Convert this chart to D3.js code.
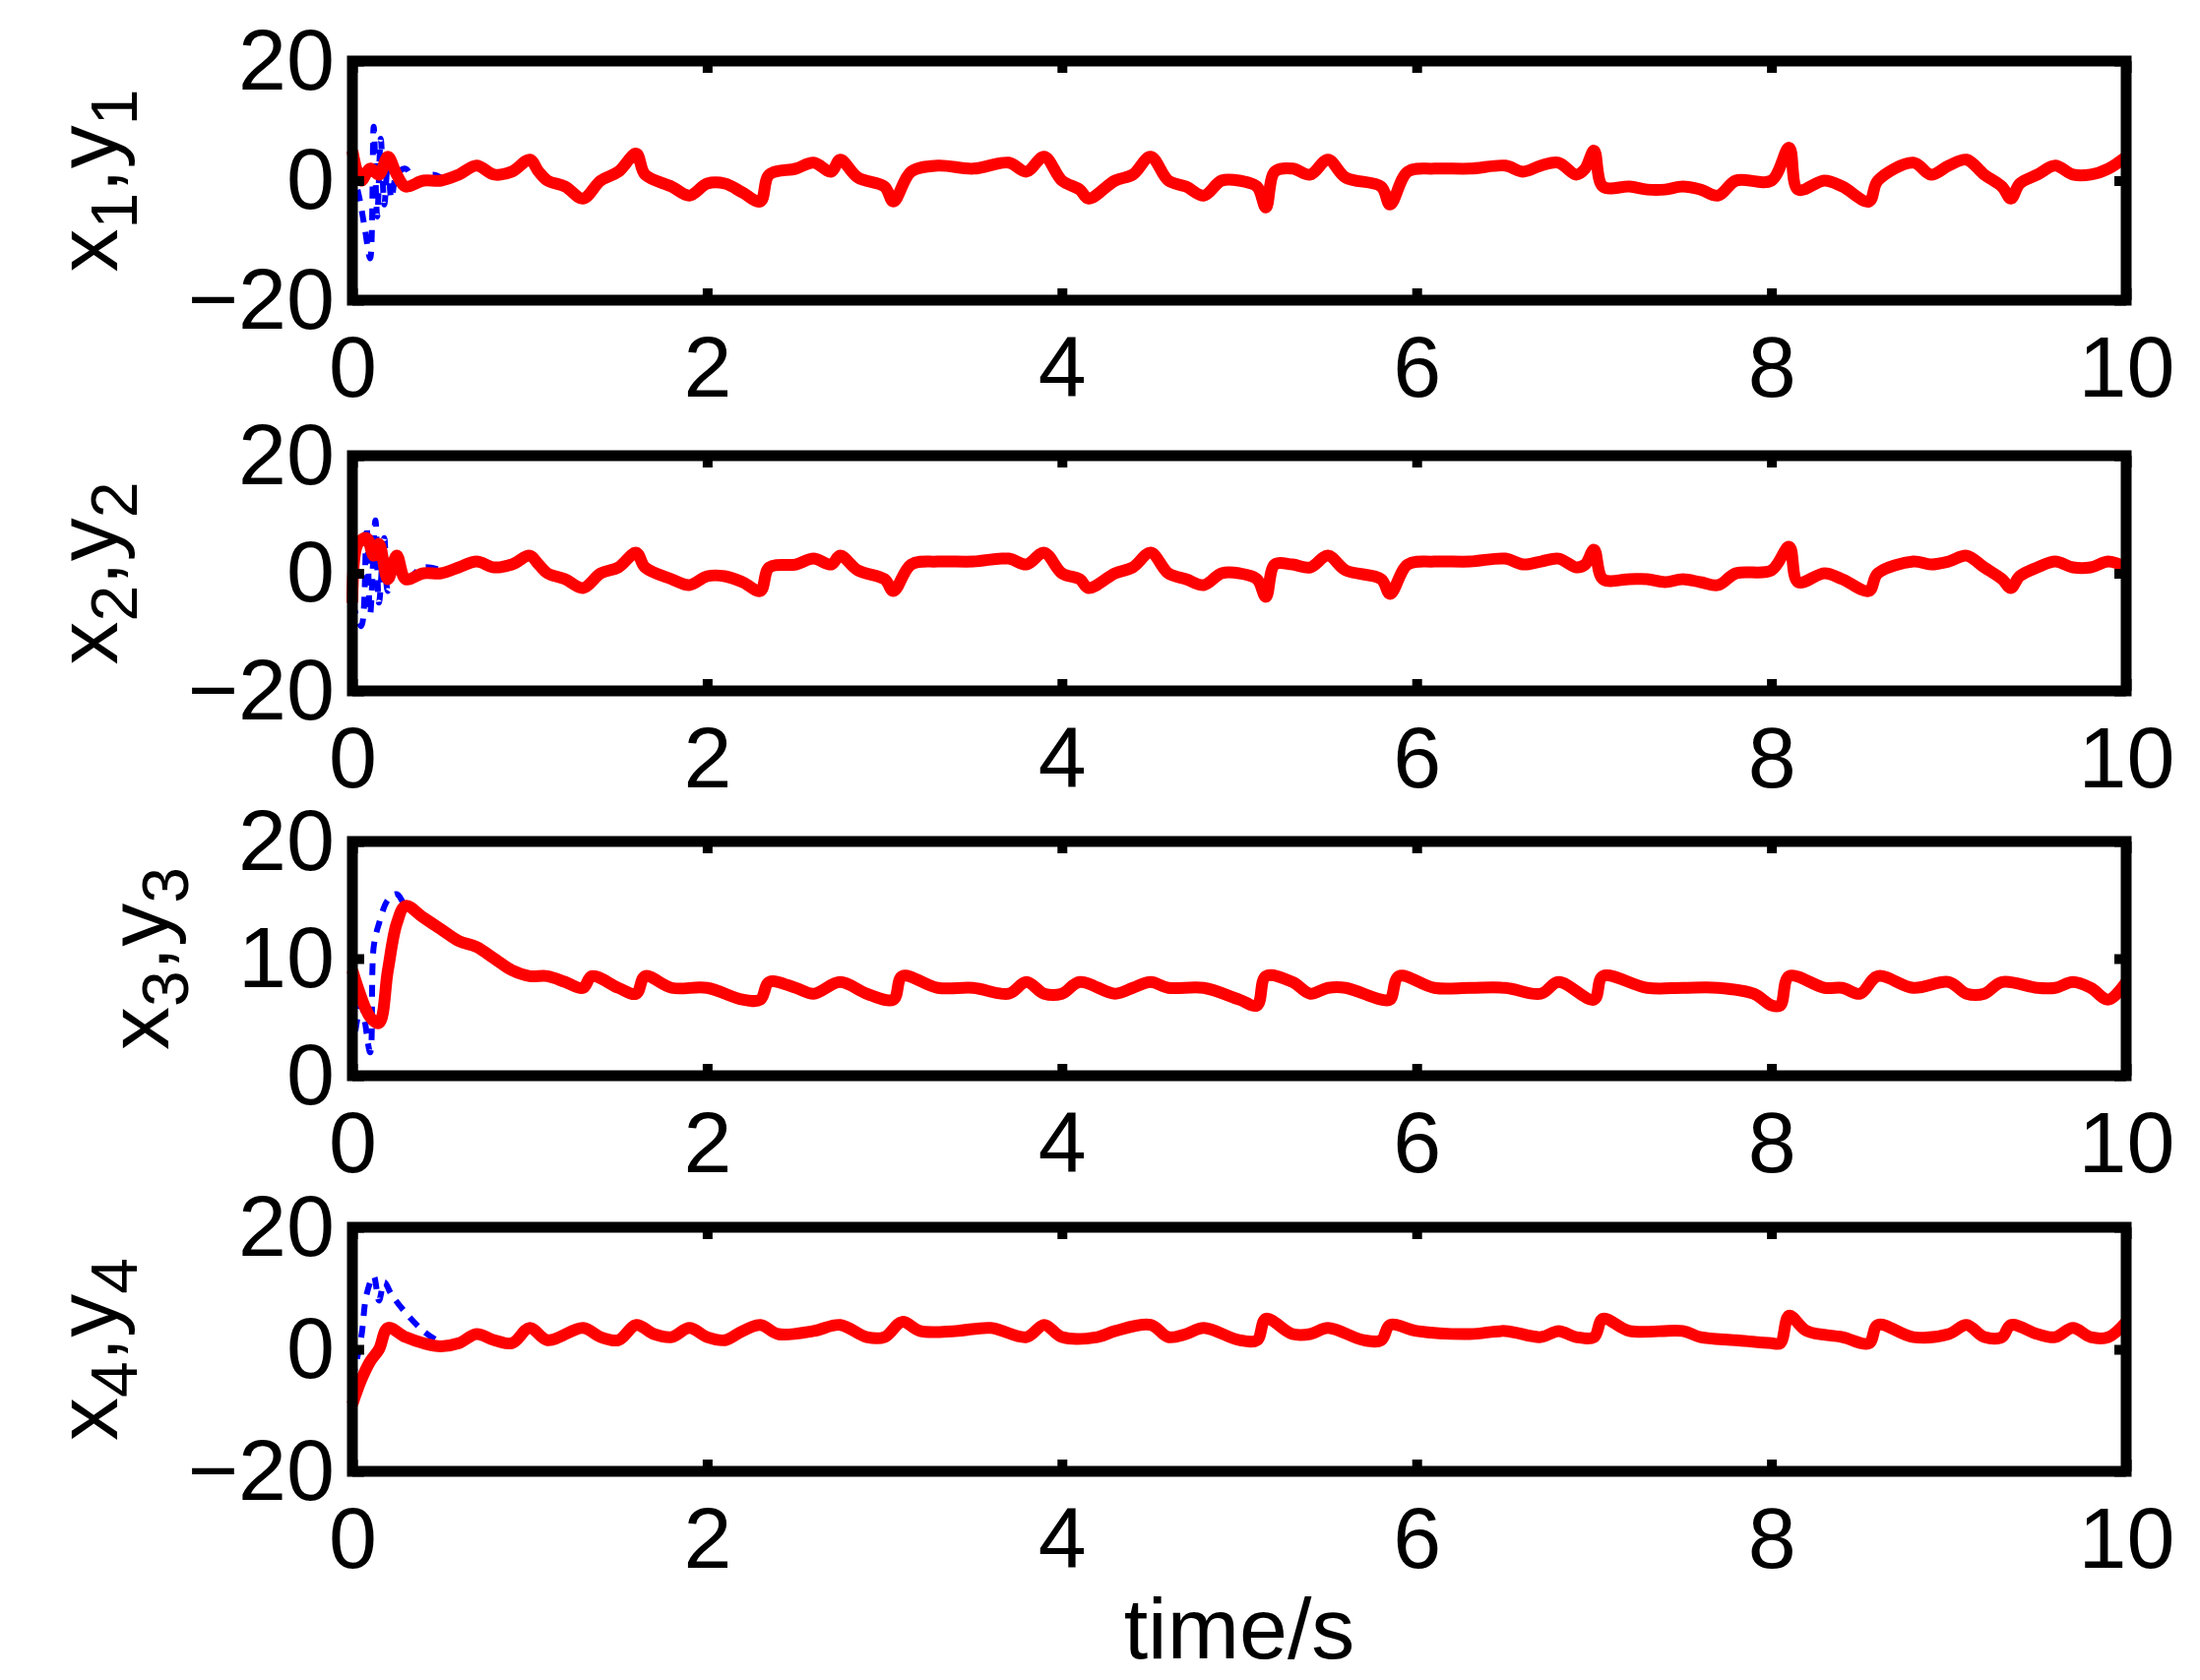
<!DOCTYPE html>
<html><head><meta charset="utf-8">
<script src="https://cdn.jsdelivr.net/npm/d3@7"></script>
<style>body{margin:0;background:#fff}svg{display:block}text{font-family:"Liberation Sans",Arial,sans-serif}</style>
</head><body>
<script>
const xTicks=[0,2,4,6,8,10];
const yTicksA=[-20,0,20];
const yTicksB=[0,10,20];
const yLabels=["1","2","3","4"];
const red1=[[0,5],[0.05,0],[0.1,2],[0.15,1],[0.2,4],[0.25,1],[0.3,-1],[0.4,0],[0.5,0],[0.6,1],[0.7,2.5],[0.8,1],[0.9,1.5],[1.0,3.5],[1.05,1.5],[1.1,0],[1.2,-1],[1.3,-3],[1.4,0],[1.5,1.5],[1.6,4.5],[1.65,1],[1.8,-1],[1.9,-2.5],[2.0,-0.5],[2.1,-0.5],[2.2,-2],[2.3,-3.5],[2.35,1],[2.5,2],[2.6,3],[2.7,1.5],[2.75,3.5],[2.85,0.5],[3.0,-1],[3.05,-3.5],[3.15,1.5],[3.3,2.5],[3.5,2],[3.7,3],[3.8,1.5],[3.9,4],[4.0,0],[4.1,-1.5],[4.15,-3],[4.3,0],[4.4,1],[4.5,4],[4.6,0],[4.7,-1],[4.8,-2.5],[4.9,0],[5.0,0],[5.1,-1],[5.15,-4.5],[5.2,1.5],[5.3,2],[5.4,1],[5.5,3.5],[5.6,0.5],[5.8,-1],[5.85,-4],[5.95,1.5],[6.1,2],[6.3,2],[6.5,2.5],[6.6,1.5],[6.7,2.5],[6.8,3],[6.9,1],[6.95,2],[7.0,5],[7.05,-1],[7.2,-1],[7.3,-1.5],[7.4,-1.5],[7.5,-1],[7.6,-1.5],[7.7,-2.5],[7.8,0],[8.0,0],[8.1,5.5],[8.15,-1.5],[8.3,0],[8.4,-1],[8.55,-3.5],[8.6,0],[8.8,3],[8.9,1],[9.0,2.5],[9.1,3.5],[9.2,1],[9.3,-1],[9.35,-3],[9.4,-0.5],[9.5,1],[9.6,2.5],[9.7,1],[9.8,1],[9.9,2],[10,4]];
const red2=[[0,-5],[0.03,5],[0.08,6],[0.12,3],[0.15,5],[0.2,-1],[0.25,3],[0.3,-1],[0.4,0],[0.5,0],[0.6,1],[0.7,2],[0.8,1],[0.9,1.5],[1.0,3],[1.05,1.5],[1.1,0],[1.2,-1],[1.3,-2.5],[1.4,0],[1.5,1],[1.6,3.5],[1.65,1],[1.8,-1],[1.9,-2],[2.0,-0.5],[2.1,-0.5],[2.2,-1.5],[2.3,-3],[2.35,1],[2.5,1.5],[2.6,2.5],[2.7,1.5],[2.75,3],[2.85,0.5],[3.0,-1],[3.05,-3],[3.15,1.5],[3.3,2],[3.5,2],[3.7,2.5],[3.8,1.5],[3.9,3.5],[4.0,0],[4.1,-1],[4.15,-2.5],[4.3,0],[4.4,1],[4.5,3.5],[4.6,0],[4.7,-1],[4.8,-2],[4.9,0],[5.0,0],[5.1,-1],[5.15,-4],[5.2,1.5],[5.3,1.5],[5.4,1],[5.5,3],[5.6,0.5],[5.8,-1],[5.85,-3.5],[5.95,1.5],[6.1,2],[6.3,2],[6.5,2.5],[6.6,1.5],[6.7,2],[6.8,2.5],[6.9,1],[6.95,1.5],[7.0,4],[7.05,-1],[7.2,-1],[7.3,-1],[7.4,-1.5],[7.5,-1],[7.6,-1.5],[7.7,-2],[7.8,0],[8.0,0.5],[8.1,4.5],[8.15,-1.5],[8.3,0],[8.4,-1],[8.55,-3],[8.6,0],[8.8,2],[8.9,1.5],[9.0,2],[9.1,3],[9.2,1],[9.3,-1],[9.35,-2.5],[9.4,-0.5],[9.5,1],[9.6,2],[9.7,1],[9.8,1],[9.9,2],[10,1]];
const red3=[[0,9],[0.1,5],[0.15,4.5],[0.2,9],[0.25,13],[0.3,14.5],[0.4,13.5],[0.5,12.5],[0.6,11.5],[0.7,11],[0.8,10],[0.9,9],[1.0,8.5],[1.1,8.5],[1.2,8],[1.3,7.5],[1.35,8.5],[1.5,7.5],[1.6,7],[1.65,8.5],[1.8,7.5],[2.0,7.5],[2.2,6.5],[2.3,6.5],[2.35,8],[2.5,7.5],[2.6,7],[2.75,8],[2.9,7],[3.05,6.5],[3.1,8.5],[3.3,7.5],[3.5,7.5],[3.7,7],[3.8,8],[3.9,7],[4.0,7],[4.1,8],[4.3,7],[4.4,7.5],[4.5,8],[4.6,7.5],[4.8,7.5],[5.0,6.5],[5.1,6],[5.15,8.5],[5.3,8],[5.4,7],[5.5,7.5],[5.6,7.5],[5.8,6.5],[5.85,6.5],[5.9,8.5],[6.1,7.5],[6.3,7.5],[6.5,7.5],[6.7,7],[6.8,8],[7.0,6.5],[7.05,8.5],[7.3,7.5],[7.5,7.5],[7.7,7.5],[7.9,7],[8.0,6],[8.05,6],[8.1,8.5],[8.3,7.5],[8.4,7.5],[8.5,7],[8.6,8.5],[8.8,7.5],[9.0,8],[9.1,7],[9.2,7],[9.3,8],[9.5,7.5],[9.6,7.5],[9.7,8],[9.8,7.5],[9.9,6.5],[10,8]];
const red4=[[0,-9],[0.05,-5],[0.1,-2],[0.15,0],[0.2,3.5],[0.3,2],[0.4,1],[0.5,0.5],[0.6,1],[0.7,2.5],[0.8,1.5],[0.9,1],[1.0,3.5],[1.1,1.5],[1.3,3.5],[1.4,2],[1.5,1.5],[1.6,4],[1.7,2.5],[1.8,2],[1.9,3.5],[2.0,2],[2.1,1.5],[2.2,3],[2.3,4],[2.4,2.5],[2.6,3],[2.75,4],[2.9,2],[3.0,2],[3.1,4.5],[3.2,3],[3.4,3],[3.6,3.5],[3.8,2],[3.9,4],[4.0,2],[4.2,2],[4.3,3],[4.5,4],[4.6,2],[4.7,2.5],[4.8,3.5],[5.0,1.5],[5.1,1.5],[5.15,5],[5.3,2.5],[5.4,2.5],[5.5,3.5],[5.7,1.5],[5.8,1.5],[5.85,4],[6.0,3],[6.3,2.5],[6.5,3],[6.7,2],[6.8,3],[6.9,2],[7.0,2],[7.05,5],[7.2,3],[7.5,3],[7.6,2],[7.8,1.5],[8.0,1],[8.05,1],[8.1,5.5],[8.2,3],[8.4,2],[8.55,1],[8.6,4],[8.8,2],[9.0,2.5],[9.1,4],[9.2,2],[9.3,2],[9.35,4],[9.5,2.5],[9.6,2],[9.7,3.5],[9.8,2],[9.9,2],[10,4.5]];
const blue1=[[0,2],[0.04,-3],[0.07,-8],[0.1,-13],[0.12,9],[0.14,-6],[0.16,7],[0.18,-4],[0.2,3],[0.22,-3],[0.25,1],[0.3,2],[0.35,0],[0.4,0],[0.45,1],[0.5,0.5]];
const blue2=[[0,-5],[0.05,-9],[0.08,8],[0.1,-7],[0.13,9],[0.15,-5],[0.18,6],[0.2,-3],[0.25,2],[0.3,-1],[0.4,1],[0.5,0.5]];
const blue3=[[0,2],[0.05,6],[0.1,2],[0.12,11],[0.15,13],[0.2,15],[0.25,15.5],[0.3,14.5],[0.4,13.5],[0.5,12.5]];
const blue4=[[0,-5],[0.05,2],[0.08,9],[0.12,12],[0.15,8],[0.18,11],[0.22,9],[0.3,6],[0.4,3],[0.5,1]];

const panels=[
 {red:red1,blue:blue1,dom:[-20,20],ticks:yTicksA,top:62,bot:305,labX:88},
 {red:red2,blue:blue2,dom:[-20,20],ticks:yTicksA,top:463,bot:702,labX:88},
 {red:red3,blue:blue3,dom:[0,20],ticks:yTicksB,top:855,bot:1093,labX:140},
 {red:red4,blue:blue4,dom:[-20,20],ticks:yTicksA,top:1247,bot:1495,labX:88}];
const W=2235,H=1707,L=358,R=2160,FS=88;
const svg=d3.select("body").append("svg").attr("width",W).attr("height",H);
const x=d3.scaleLinear().domain([0,10]).range([L,R]);
panels.forEach((p,i)=>{
 const y=d3.scaleLinear().domain(p.dom).range([p.bot,p.top]);
 const g=svg.append("g");
 const line=d3.line().x(d=>x(d[0])).y(d=>y(d[1])).curve(d3.curveCatmullRom);
 g.append("path").datum(p.blue).attr("d",line).attr("fill","none").attr("stroke","#0000ff").attr("stroke-width",6).attr("stroke-dasharray","12,10");
 g.append("path").datum(p.red).attr("d",line).attr("fill","none").attr("stroke","#ff0000").attr("stroke-width",12).attr("stroke-linejoin","round");
 const ax=g.append("g").attr("transform",`translate(0,${p.bot})`).call(d3.axisBottom(x).tickValues(xTicks).tickSize(-12).tickPadding(36).tickFormat(d3.format("d")));
 const axT=g.append("g").attr("transform",`translate(0,${p.top})`).call(d3.axisTop(x).tickValues(xTicks).tickSize(-12).tickFormat(""));
 const ay=g.append("g").attr("transform",`translate(${L},0)`).call(d3.axisLeft(y).tickValues(p.ticks).tickSize(-12).tickPadding(18).tickFormat(d=>d<0?"\u2212"+(-d):d));
 const ayR=g.append("g").attr("transform",`translate(${R},0)`).call(d3.axisRight(y).tickValues(p.ticks).tickSize(-12).tickFormat(""));
 [ax,axT,ay,ayR].forEach(a=>{a.select(".domain").remove();a.selectAll("line").attr("stroke","#000").attr("stroke-width",10);a.selectAll("text").attr("font-size",FS).attr("fill","#000")});
 ax.selectAll("text").attr("dy","0.71em");
 g.append("rect").attr("x",L).attr("y",p.top).attr("width",R-L).attr("height",p.bot-p.top).attr("fill","none").attr("stroke","#000").attr("stroke-width",11);
 const t=g.append("text").attr("transform",`translate(${p.labX},${(p.top+p.bot)/2}) rotate(-90)`).attr("text-anchor","middle").attr("font-size",FS).attr("dy","0.35em");
 t.append("tspan").text("x");
 t.append("tspan").attr("baseline-shift","-30%").attr("font-size",FS*0.75).text(yLabels[i]);
 t.append("tspan").text(",y");
 t.append("tspan").attr("baseline-shift","-30%").attr("font-size",FS*0.75).text(yLabels[i]);
});
svg.append("text").attr("x",(L+R)/2).attr("y",1685).attr("text-anchor","middle").attr("font-size",FS).text("time/s");
</script>
</body></html>
